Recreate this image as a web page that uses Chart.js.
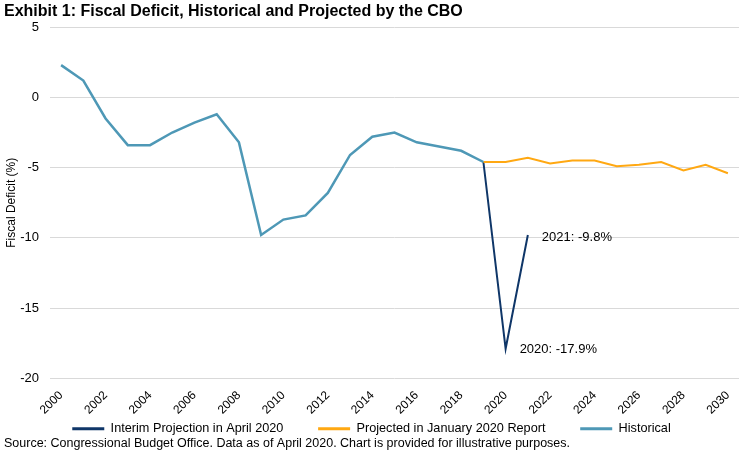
<!DOCTYPE html>
<html>
<head>
<meta charset="utf-8">
<script src="https://cdn.jsdelivr.net/npm/chart.js@4"></script>
<style>
  html, body { margin: 0; padding: 0; background: #fff; }
  #wrap { width: 745px; height: 452px; }
</style>
</head>
<body>
<div id="wrap"><canvas id="deficitChart"></canvas></div>
<script>
const years = [];
for (let y = 2000; y <= 2030; y++) years.push(String(y));

// Historical 2000-2019
const historical = [2.3, 1.2, -1.5, -3.4, -3.4, -2.5, -1.8, -1.2, -3.2, -9.8,
    -8.7, -8.4, -6.8, -4.1, -2.8, -2.5, -3.2, -3.5, -3.8, -4.6];
// Projected in January 2020 report, 2019-2030
const projectedJan = [-4.6, -4.6, -4.3, -4.7, -4.5, -4.5, -4.9, -4.8, -4.6, -5.2, -4.8, -5.4];
// Interim projection April 2020, 2019-2021
const interimApril = [-4.6, -17.9, -9.8];

const pad = n => new Array(n).fill(null);

const FONT = "'Liberation Sans', Arial, sans-serif";

// Labels next to the interim projection points
const annotations = {
    id: "annotations",
    afterDatasetsDraw(chart) {
        const ctx = chart.ctx;
        const x = chart.scales.x, y = chart.scales.y;
        ctx.save();
        ctx.font = "13px " + FONT;
        ctx.fillStyle = "#000";
        ctx.textBaseline = "middle";
        ctx.fillText("2021: -9.8%", x.getPixelForValue(21) + 14, y.getPixelForValue(-9.8) + 2);
        ctx.fillText("2020: -17.9%", x.getPixelForValue(20) + 14, y.getPixelForValue(-17.9) + 1);
        ctx.restore();
    }
};

const ctx = document.getElementById("deficitChart").getContext("2d");

const chart = new Chart(ctx, {
    type: "line",
    data: {
        labels: years,
        datasets: [{
            label: "Interim Projection in April 2020",
            data: pad(19).concat(interimApril),
            borderColor: "#0F3668",
            borderWidth: 2,
            pointRadius: 0,
            fill: false,
            order: 2
        }, {
            label: "Projected in January 2020 Report",
            data: pad(19).concat(projectedJan),
            borderColor: "#FFA812",
            borderWidth: 2,
            pointRadius: 0,
            fill: false,
            order: 1
        }, {
            label: "Historical",
            data: historical,
            borderColor: "#4E98B6",
            borderWidth: 2.5,
            pointRadius: 0,
            fill: false,
            order: 0
        }]
    },
    options: {
        responsive: true,
        maintainAspectRatio: false,
        animation: false,
        layout: { padding: { left: 4, right: 6, top: 0, bottom: 0 } },
        plugins: {
            title: {
                display: true,
                text: "Exhibit 1: Fiscal Deficit, Historical and Projected by the CBO",
                align: "start",
                color: "#000",
                font: { family: FONT, size: 16, weight: "bold" },
                padding: { top: 2, bottom: 6 }
            },
            subtitle: {
                display: true,
                position: "bottom",
                align: "start",
                text: "Source: Congressional Budget Office. Data as of April 2020. Chart is provided for illustrative purposes.",
                color: "#000",
                font: { family: FONT, size: 12.5 },
                // negative top pulls the legend down toward the source line
                padding: { top: -9, bottom: 1 }
            },
            legend: {
                position: "bottom",
                labels: {
                    usePointStyle: true,
                    pointStyle: "line",
                    pointStyleWidth: 32,
                    padding: 3,
                    color: "#000",
                    font: { family: FONT, size: 12.7 },
                    generateLabels(chart) {
                        const items = Chart.defaults.plugins.legend.labels.generateLabels(chart);
                        items.sort((a, b) => a.datasetIndex - b.datasetIndex);
                        items.forEach((it, i) => {
                            it.lineWidth = 3;
                            if (i < items.length - 1) it.text += "         ";
                        });
                        return items;
                    }
                }
            },
            tooltip: { enabled: false }
        },
        scales: {
            x: {
                offset: true,
                grid: { display: false },
                border: { display: false },
                ticks: {
                    autoSkip: false,
                    minRotation: 45,
                    maxRotation: 45,
                    color: "#000",
                    font: { family: FONT, size: 12 },
                    padding: 2,
                    callback: (v, i) => (i % 2 === 0 ? years[i] : "")
                }
            },
            y: {
                min: -20,
                max: 5,
                afterFit: s => { s.width = 46; },
                ticks: {
                    stepSize: 5,
                    color: "#000",
                    font: { family: FONT, size: 13 },
                    padding: 11
                },
                grid: { color: "#d9d9d9", drawTicks: false },
                border: { display: false },
                title: {
                    display: true,
                    text: "Fiscal Deficit (%)",
                    color: "#000",
                    font: { family: FONT, size: 12 },
                    padding: 0
                }
            }
        }
    },
    plugins: [annotations]
});
</script>
</body>
</html>
